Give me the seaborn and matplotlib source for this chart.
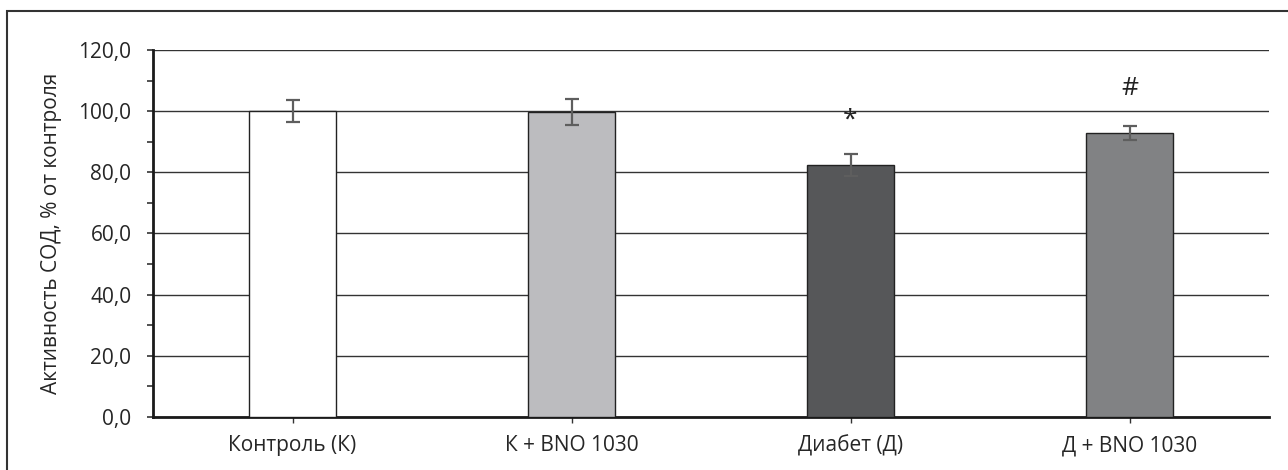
import matplotlib
matplotlib.use('Agg')
import matplotlib.pyplot as plt
import seaborn as sns
import pandas as pd
from matplotlib.patches import Rectangle

# Data
groups = ['Контроль (К)', 'К + BNO 1030', 'Диабет (Д)', 'Д + BNO 1030']
activity = [100.0, 99.7, 82.4, 92.9]
errors = [3.6, 4.3, 3.7, 2.3]
marks = ['', '', '*', '#']
mark_y = [0, 0, 97.0, 107.5]
bar_colors = ['#FFFFFF', '#BBBCC0', '#555759', '#808285']

df = pd.DataFrame({'group': groups, 'activity': activity})

sns.set_style('white')
plt.rcParams['font.family'] = ['Open Sans', 'DejaVu Sans']

fig = plt.figure(figsize=(12.88, 4.70), dpi=100)
ax = fig.add_axes([0.1188, 0.1128, 0.8665, 0.7808])

sns.barplot(data=df, x='group', y='activity', hue='group', palette=bar_colors,
            width=0.313, edgecolor='#222222', linewidth=1.0, legend=False,
            errorbar=None, ax=ax, zorder=3)

ax.errorbar(range(len(groups)), activity, yerr=errors, fmt='none',
            ecolor='#5E5E5E', elinewidth=1.6, capsize=5, capthick=1.6, zorder=4)

for i, (m, y) in enumerate(zip(marks, mark_y)):
    if m:
        ax.text(i, y, m, ha='center', va='center', fontsize=19, color='#222222')

ax.set_ylim(0, 120)
ax.set_xlim(-0.5, 3.5)
ax.set_yticks(range(0, 121, 20))
ax.set_yticks(range(10, 120, 20), minor=True)
ax.set_yticklabels([f'{v},0' for v in range(0, 121, 20)], fontsize=15)
ax.yaxis.grid(True, which='major', color='#333333', linewidth=1.0, zorder=0)
ax.set_axisbelow(True)
ax.tick_params(axis='y', which='both', direction='out', length=4.5, width=1.2,
               color='#333333', left=True, pad=11)
ax.tick_params(axis='x', direction='out', length=4, width=1.0, color='#333333',
               bottom=True, labelsize=15, pad=9)

ax.set_xlabel('')
ax.set_ylabel('Активность СОД, % от контроля', fontsize=15, labelpad=12)

for side in ['top', 'right']:
    ax.spines[side].set_visible(False)
for side in ['left', 'bottom']:
    ax.spines[side].set_color('#1A1A1A')
    ax.spines[side].set_linewidth(2.0)

# outer frame (cut off on the right and bottom)
fig.patches.append(Rectangle((0.0055, -0.05), 1.1, 1.026, transform=fig.transFigure,
                             fill=False, edgecolor='#333333', linewidth=1.5))

fig.savefig('out.png', dpi=100)
